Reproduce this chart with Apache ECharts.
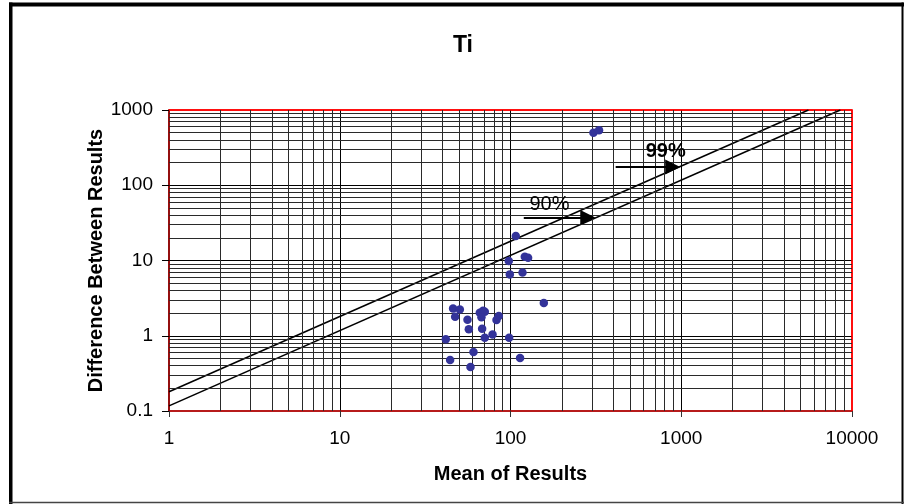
<!DOCTYPE html>
<html>
<head>
<meta charset="utf-8">
<script src="https://cdn.jsdelivr.net/npm/echarts@6/dist/echarts.min.js"></script>
<style>
  html, body { margin: 0; padding: 0; background: #fff; }
  #chart { width: 904px; height: 504px; }
</style>
</head>
<body>
<div id="chart"></div>
<script>
// Ti duplicate analyses: mean of the pair vs. absolute difference
const meanValues = [46.1, 50.5, 47.4, 56.0, 66.1, 69.1, 70.7, 67.6, 85.4, 82.8,
                    57.0, 68.2, 78.5, 70.7, 41.8, 98.2, 60.7, 44.3, 113.8, 58.3,
                    107.4, 97.7, 121.3, 126.8, 99.1, 117.6, 156.7, 306, 330];
const diffValues = [2.31, 2.24, 1.79, 1.63, 2.02, 2.15, 2.08, 1.76, 1.83, 1.62,
                    1.22, 1.24, 1.04, 0.94, 0.90, 0.94, 0.61, 0.475, 0.505, 0.384,
                    21.1, 9.82, 11.2, 10.9, 6.54, 6.95, 2.72, 497, 539];

// Precision control lines (end points, mean -> difference)
const line99 = [[1, 0.18], [5556, 1000]];
const line90 = [[1, 0.117], [8547, 1000]];

// Axis ticks (decades) and minor grid steps within each decade
const xTicks = [1, 10, 100, 1000, 10000];
const yTicks = [0.1, 1, 10, 100, 1000];
const minorSteps = [2, 3, 4, 5, 6, 7, 8, 9];

// Annotation labels and their arrows (data coordinates)
const labelNames = ['99%', '90%'];
const labelPoints = [[811, 284], [169, 55.2]];
const arrow99 = [[413, 175], [891, 175]];
const arrow90 = [[119.6, 37.3], [283.5, 37.3]];

const FONT = 'Liberation Sans, Arial, sans-serif';

function minorValues(ticks) {
  const out = [];
  for (let i = 0; i < ticks.length - 1; i++) {
    minorSteps.forEach(function (m) { out.push(+(ticks[i] * m).toPrecision(6)); });
  }
  return out;
}

function plainNumber(v) { return String(+(+v).toPrecision(6)); }

const gridLines = []
  .concat(minorValues(xTicks).map(function (v) { return { xAxis: v }; }))
  .concat(minorValues(yTicks).map(function (v) { return { yAxis: v }; }));

// red frame along the top and right edges of the plot
const plotFrame = [[xTicks[0], yTicks[yTicks.length - 1]],
                   [xTicks[xTicks.length - 1], yTicks[yTicks.length - 1]],
                   [xTicks[xTicks.length - 1], yTicks[0]]];

const chart = echarts.init(document.getElementById('chart'), null, { renderer: 'canvas' });

chart.setOption({
  animation: false,
  backgroundColor: '#fff',
  textStyle: { fontFamily: FONT },
  graphic: [
    // outer frame
    { type: 'line', shape: { x1: 10.75, y1: 2.5, x2: 10.75, y2: 504 }, style: { stroke: '#000', lineWidth: 3.5 } },
    { type: 'line', shape: { x1: 9, y1: 4.5, x2: 904, y2: 4.5 }, style: { stroke: '#000', lineWidth: 4 } },
    { type: 'line', shape: { x1: 902.5, y1: 2.5, x2: 902.5, y2: 504 }, style: { stroke: '#000', lineWidth: 2 } },
    { type: 'line', shape: { x1: 9, y1: 502.5, x2: 904, y2: 502.5 }, style: { stroke: '#444', lineWidth: 1.5 } },
    // chart title
    { type: 'text', x: 463, y: 45.5,
      style: { text: 'Ti', fill: '#000', font: 'bold 23px ' + FONT, textAlign: 'center', textVerticalAlign: 'middle' } }
  ],
  grid: {
    left: 169, top: 110, right: 52, bottom: 93,
    show: true, borderColor: '#ff0000', borderWidth: 1.5, backgroundColor: 'transparent'
  },
  xAxis: {
    type: 'log', logBase: 10, min: xTicks[0], max: xTicks[xTicks.length - 1],
    name: 'Mean of Results', nameLocation: 'middle', nameGap: 53, nameMoveOverlap: false,
    nameTextStyle: { fontSize: 20, fontWeight: 'bold', color: '#000', fontFamily: FONT },
    axisLine: { show: true, lineStyle: { color: '#a01010', width: 1.5 } },
    axisTick: { show: true, length: 6, lineStyle: { color: '#333', width: 1 } },
    axisLabel: { fontSize: 19, color: '#000', margin: 18, fontFamily: FONT, formatter: plainNumber },
    splitLine: { show: true, showMinLine: false, showMaxLine: false, lineStyle: { color: '#000', width: 1 } }
  },
  yAxis: {
    type: 'log', logBase: 10, min: yTicks[0], max: yTicks[yTicks.length - 1],
    name: 'Difference Between Results', nameLocation: 'middle', nameGap: 63, nameMoveOverlap: false,
    nameTextStyle: { fontSize: 20, fontWeight: 'bold', color: '#000', fontFamily: FONT },
    axisLine: { show: true, lineStyle: { color: '#700000', width: 1.5 } },
    axisTick: { show: true, length: 7, lineStyle: { color: '#000', width: 1 } },
    axisLabel: { fontSize: 19, color: '#000', margin: 16, fontFamily: FONT, formatter: plainNumber },
    splitLine: { show: true, showMinLine: false, showMaxLine: false, lineStyle: { color: '#000', width: 1 } }
  },
  series: [
    {
      // minor log grid
      name: 'grid', type: 'line', data: [], silent: true, z: 1,
      markLine: {
        silent: true, symbol: ['none', 'none'], label: { show: false },
        lineStyle: { color: '#2a2a2a', width: 1, type: 'solid' },
        emphasis: { disabled: true },
        data: gridLines
      }
    },
    {
      name: 'frame', type: 'line', data: plotFrame, symbol: 'none', silent: true, z: 2,
      clip: false, lineStyle: { color: '#ff0000', width: 1.5 }
    },
    {
      name: '99%', type: 'line', data: line99, symbol: 'none', silent: true, z: 3,
      lineStyle: { color: '#000', width: 1.6 },
      markLine: {
        silent: true, symbol: ['none', 'triangle'], symbolSize: 15, label: { show: false },
        lineStyle: { color: '#000', width: 2, type: 'solid' },
        itemStyle: { color: '#000' },
        data: [[{ coord: arrow99[0] }, { coord: arrow99[1] }]]
      }
    },
    {
      name: '90%', type: 'line', data: line90, symbol: 'none', silent: true, z: 3,
      lineStyle: { color: '#000', width: 1.6 },
      markLine: {
        silent: true, symbol: ['none', 'triangle'], symbolSize: 15, label: { show: false },
        lineStyle: { color: '#000', width: 2, type: 'solid' },
        itemStyle: { color: '#000' },
        data: [[{ coord: arrow90[0] }, { coord: arrow90[1] }]]
      }
    },
    {
      name: 'Ti', type: 'scatter', z: 5,
      data: meanValues.map(function (m, i) { return [m, diffValues[i]]; }),
      symbol: 'circle', symbolSize: 8.5,
      itemStyle: { color: '#333399', opacity: 1 }
    },
    {
      name: 'labels', type: 'scatter', z: 6, silent: true,
      symbolSize: 0, itemStyle: { opacity: 1 },
      data: labelPoints.map(function (p, i) {
        return {
          value: p,
          label: {
            show: true, position: 'inside', formatter: labelNames[i],
            fontSize: 20, color: '#000', fontFamily: FONT,
            fontWeight: i === 0 ? 'bold' : 'normal'
          }
        };
      })
    }
  ]
});
</script>
</body>
</html>
